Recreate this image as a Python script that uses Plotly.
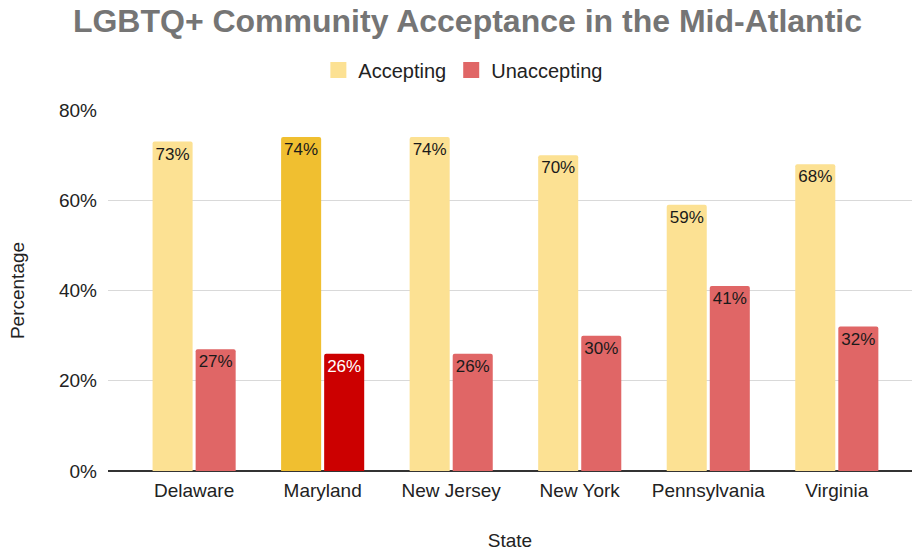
import plotly.graph_objects as go

# Survey results by state (percent of respondents)
states = ["Delaware", "Maryland", "New Jersey", "New York", "Pennsylvania", "Virginia"]
accepting = [73, 74, 74, 70, 59, 68]
unaccepting = [27, 26, 26, 30, 41, 32]
highlight_state = "Maryland"

acc_base, acc_hi = "#FCE193", "#F0BF30"
unacc_base, unacc_hi = "#E06666", "#CC0000"

acc_colors = [acc_hi if s == highlight_state else acc_base for s in states]
unacc_colors = [unacc_hi if s == highlight_state else unacc_base for s in states]
unacc_text = ["#FFFFFF" if s == highlight_state else "#1a1a1a" for s in states]

font_family = "Liberation Sans, Arial, sans-serif"
text_color = "#222222"

fig = go.Figure()
fig.add_trace(go.Bar(
    name="Accepting", x=states, y=accepting, showlegend=False,
    marker=dict(color=acc_colors, line=dict(width=0)),
    text=[f"{v}%" for v in accepting], texttemplate="%{text}",
    textposition="inside", insidetextanchor="end", constraintext="none",
    textangle=0, textfont=dict(size=17, color="#1a1a1a", family=font_family),
))
fig.add_trace(go.Bar(
    name="Unaccepting", x=states, y=unaccepting, showlegend=False,
    marker=dict(color=unacc_colors, line=dict(width=0)),
    text=[f"{v}%" for v in unaccepting], texttemplate="%{text}",
    textposition="inside", insidetextanchor="end", constraintext="none",
    textangle=0, textfont=dict(size=17, color=unacc_text, family=font_family),
))

# Legend entries with larger square swatches
for name, color in [("Accepting", acc_base), ("Unaccepting", unacc_base)]:
    fig.add_trace(go.Scatter(
        name=name, x=[None], y=[None], mode="markers",
        marker=dict(symbol="square", size=16, color=color),
        showlegend=True, hoverinfo="skip",
    ))

fig.update_layout(
    width=913, height=552,
    margin=dict(l=108, r=1, t=110, b=81),
    paper_bgcolor="white", plot_bgcolor="white",
    barmode="group", bargap=0.33, bargroupgap=0.07, barcornerradius=2,
    font=dict(family=font_family, size=19, color=text_color),
    title=dict(text="<b>LGBTQ+ Community Acceptance in the Mid-Atlantic</b>",
               x=0.512, xref="container", xanchor="center",
               y=0.962, yref="container", yanchor="middle",
               font=dict(size=32, color="#757575", family=font_family)),
    legend=dict(orientation="h", x=0.442, xanchor="center", y=1.111, yanchor="middle",
                font=dict(size=20, color=text_color), itemwidth=30,
                traceorder="normal", bgcolor="rgba(0,0,0,0)"),
    xaxis=dict(range=[-0.67, 5.585], showgrid=False, ticks="", showline=False,
               tickfont=dict(size=19, color=text_color), ticklabelstandoff=6,
               title=dict(text="State", font=dict(size=19, color=text_color), standoff=33)),
    yaxis=dict(range=[0, 80], dtick=20, ticksuffix="%", showgrid=True,
               gridcolor="#D9D9D9", gridwidth=1, zeroline=True,
               zerolinecolor="#333333", zerolinewidth=2, ticks="",
               tickfont=dict(size=19, color=text_color), ticklabelstandoff=10,
               title=dict(text="Percentage", font=dict(size=19, color=text_color), standoff=29)),
)

fig.write_html("out.html")
